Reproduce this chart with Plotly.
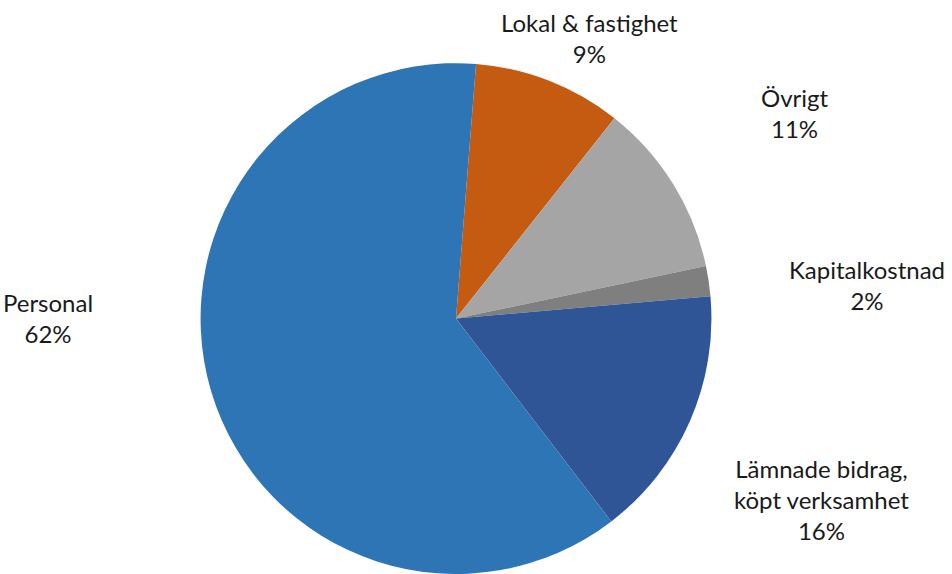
import plotly.graph_objects as go

# Data
categories = ["Lokal & fastighet", "Övrigt", "Kapitalkostnad",
              "Lämnade bidrag,<br>köpt verksamhet", "Personal"]
values = [9.4, 11.05, 1.9, 16.0, 61.65]
colors = ["#C55A11", "#A5A5A5", "#7F7F7F", "#2F5597", "#2E75B6"]

W, H = 952, 574
total = sum(values)
pct_text = [f"{round(v / total * 100)}%" for v in values]

# Label centre positions in pixels (layout only)
label_px = [(589, 38), (795, 113), (867, 285), (821, 499), (48, 318)]

fig = go.Figure(go.Pie(
    labels=categories,
    values=values,
    marker=dict(colors=colors, line=dict(width=0)),
    sort=False,
    direction="clockwise",
    rotation=4.5,
    textinfo="none",
    hoverinfo="label+percent",
    domain=dict(x=[0.2, 0.758], y=[0.0, 0.89]),
    showlegend=False,
))

for cat, pt, (px, py) in zip(categories, pct_text, label_px):
    fig.add_annotation(
        x=px / W, y=1 - py / H, xref="paper", yref="paper",
        text=f"{cat}<br>{pt}", showarrow=False,
        xanchor="center", yanchor="middle", align="center",
        font=dict(family="Lato", size=24, color="#1a1a1a"),
    )

fig.update_layout(
    width=W, height=H,
    margin=dict(l=0, r=0, t=0, b=0),
    paper_bgcolor="white", plot_bgcolor="white",
)

fig.write_html(
    "out.html",
    config={"displayModeBar": False},
    post_script="document.body.style.margin='0';document.body.style.overflow='hidden';",
)
